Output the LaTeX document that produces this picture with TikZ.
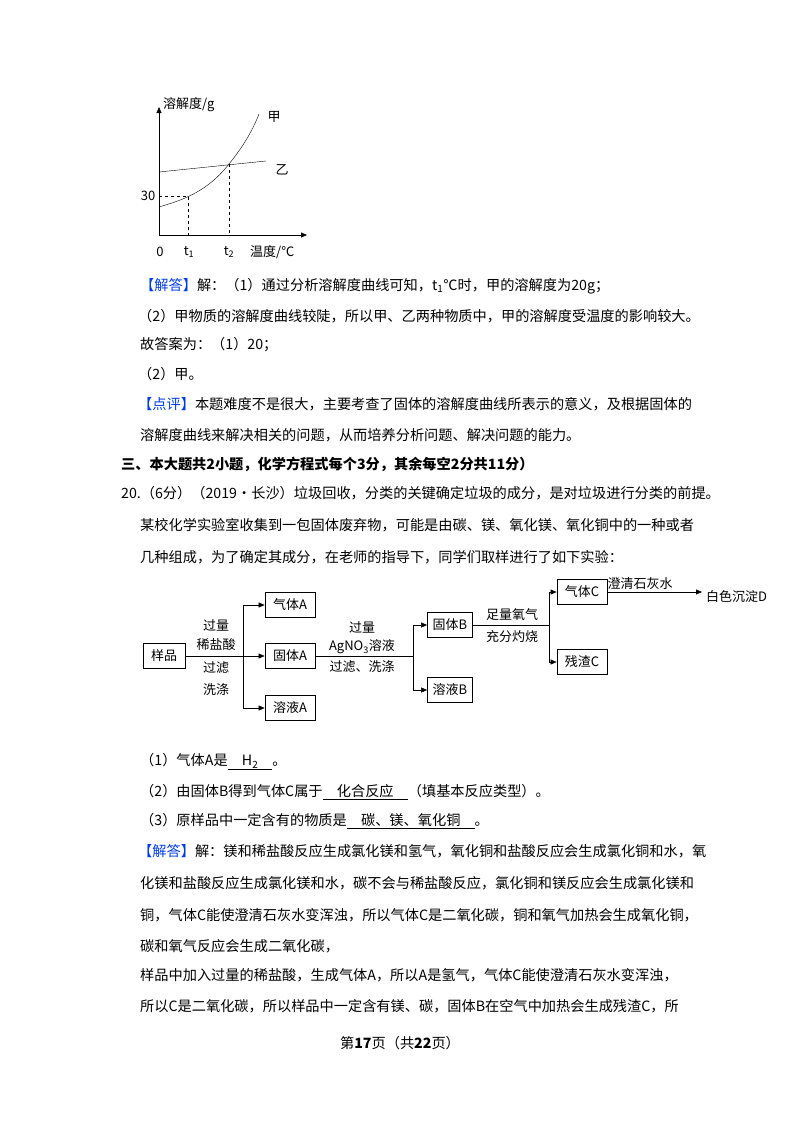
\documentclass[tikz,border=0pt]{standalone}
\usepackage{fontspec}
\setmainfont{Noto Sans CJK SC}
\usetikzlibrary{arrows.meta}
\definecolor{hl}{RGB}{0,60,230}
\begin{document}
\begin{tikzpicture}[x=1pt,y=-1pt,
  txt/.style={anchor=west,inner sep=0pt,font=\fontsize{14.2}{14}\selectfont},
  fb/.style={draw,thick,minimum width=48pt,minimum height=25pt,inner sep=1pt,font=\fontsize{13}{13}\selectfont},
  lb/.style={inner sep=0pt,font=\fontsize{13}{13}\selectfont},
  ar/.style={-{Triangle[length=6pt,width=5pt]}},
  gl/.style={font=\fontsize{13}{13}\selectfont,inner sep=0pt}]
\useasboundingbox (0,0) rectangle (800,1132);
% graph
\coordinate (O) at (159,235);
\coordinate (yt) at (159,107);
\coordinate (xt) at (307,235);
\draw[ar] (O) -- (yt);
\draw[ar] (O) -- (xt);
\node[gl,anchor=west] (yl) at (163,105) {溶解度/g};
\draw (159,172) -- (266,161);
\node[gl] (yi) at (282,170) {乙};
\draw (159,207) .. controls (175,202) and (205,195) .. (229,164) .. controls (242,148) and (252,132) .. (259,114);
\node[gl] (jia) at (274,117) {甲};
\node[gl] (t30) at (148,196) {30};
\draw[dashed] (159,196) -- (188,196) -- (188,235);
\draw[dashed] (229,164) -- (229,235);
\node[gl] (z0) at (160,252) {0};
\node[gl] (t1) at (189,252) {t\textsubscript{1}};
\node[gl] (t2) at (229,252) {t\textsubscript{2}};
\node[gl,anchor=west] (wd) at (250,252) {温度/℃};
% text
\node[txt] (l1) at (140,286) {{\color{hl}【解答】}解：（1）通过分析溶解度曲线可知，t\textsubscript{1}℃时，甲的溶解度为20g；};
\node[txt] (l2) at (138,316) {（2）甲物质的溶解度曲线较陡，所以甲、乙两种物质中，甲的溶解度受温度的影响较大。};
\node[txt] (l3) at (140,345) {故答案为：（1）20；};
\node[txt] (l4) at (138,374) {（2）甲。};
\node[txt] (l5) at (138,404) {{\color{hl}【点评】}本题难度不是很大，主要考查了固体的溶解度曲线所表示的意义，及根据固体的};
\node[txt] (l6) at (140,435) {溶解度曲线来解决相关的问题，从而培养分析问题、解决问题的能力。};
\node[txt,font=\fontsize{14.2}{14}\selectfont\bfseries] (l7) at (121,464) {三、本大题共2小题，化学方程式每个3分，其余每空2分共11分）};
\node[txt] (l8) at (121,493) {20.（6分）（2019•长沙）垃圾回收，分类的关键确定垃圾的成分，是对垃圾进行分类的前提。};
\node[txt] (l9) at (140,525) {某校化学实验室收集到一包固体废弃物，可能是由碳、镁、氧化镁、氧化铜中的一种或者};
\node[txt] (l10) at (140,557) {几种组成，为了确定其成分，在老师的指导下，同学们取样进行了如下实验：};
% flowchart
\node[fb,minimum width=42pt] (yp) at (164,656) {样品};
\node[fb,minimum width=50pt] (qa) at (290,605) {气体A};
\node[fb,minimum width=50pt] (ga) at (290,656) {固体A};
\node[fb,minimum width=50pt] (ra) at (290,708) {溶液A};
\node[fb,minimum width=45pt] (gb) at (450,625) {固体B};
\node[fb,minimum width=45pt] (rb) at (450,690) {溶液B};
\node[fb,minimum width=50pt] (qc) at (582,592) {气体C};
\node[fb,minimum width=50pt] (zc) at (582,662) {残渣C};
\node[lb,anchor=west] (bd) at (706,597) {白色沉淀D};
\coordinate (b1) at (243,656);
\coordinate (b2) at (413,656);
\coordinate (b3) at (549,625);
\draw (yp) -- (b1);
\draw[ar] (b1) |- (qa.west);
\draw[ar] (b1) -- (ga.west);
\draw[ar] (b1) |- (ra.west);
\draw (ga) -- (b2);
\draw[ar] (b2) |- (gb.west);
\draw[ar] (b2) |- (rb.west);
\draw (gb) -- (b3);
\draw[ar] (b3) |- (qc.west);
\draw[ar] (b3) |- (zc.west);
\draw[ar] (qc.east) -- (702,592);
\node[lb] (f1) at (216,625) {过量};
\node[lb] (f2) at (216,645) {稀盐酸};
\node[lb] (f3) at (216,668) {过滤};
\node[lb] (f4) at (216,690) {洗涤};
\node[lb] (f5) at (362,627) {过量};
\node[lb] (f6) at (362,647) {AgNO\textsubscript{3}溶液};
\node[lb] (f7) at (362,667) {过滤、洗涤};
\node[lb] (f8) at (512,615) {足量氧气};
\node[lb] (f9) at (512,637) {充分灼烧};
\node[lb] (f10) at (640,584) {澄清石灰水};
% answers
\node[txt] (a1) at (140,762) {（1）气体A是\underline{\quad H\textsubscript{2}\quad}。};
\node[txt] (a2) at (140,792) {（2）由固体B得到气体C属于\underline{\quad 化合反应\quad}（填基本反应类型）。};
\node[txt] (a3) at (140,821) {（3）原样品中一定含有的物质是\underline{\quad 碳、镁、氧化铜\quad}。};
\node[txt] (a4) at (138,851) {{\color{hl}【解答】}解：镁和稀盐酸反应生成氯化镁和氢气，氧化铜和盐酸反应会生成氯化铜和水，氧};
\node[txt] (a5) at (140,883) {化镁和盐酸反应生成氯化镁和水，碳不会与稀盐酸反应，氯化铜和镁反应会生成氯化镁和};
\node[txt] (a6) at (140,915) {铜，气体C能使澄清石灰水变浑浊，所以气体C是二氧化碳，铜和氧气加热会生成氧化铜，};
\node[txt] (a7) at (140,946) {碳和氧气反应会生成二氧化碳，};
\node[txt] (a8) at (140,975) {样品中加入过量的稀盐酸，生成气体A，所以A是氢气，气体C能使澄清石灰水变浑浊，};
\node[txt] (a9) at (140,1006) {所以C是二氧化碳，所以样品中一定含有镁、碳，固体B在空气中加热会生成残渣C，所};
\node[txt,anchor=center] (pg) at (400,1043) {第\textbf{17}页（共\textbf{22}页）};
\end{tikzpicture}
\end{document}
